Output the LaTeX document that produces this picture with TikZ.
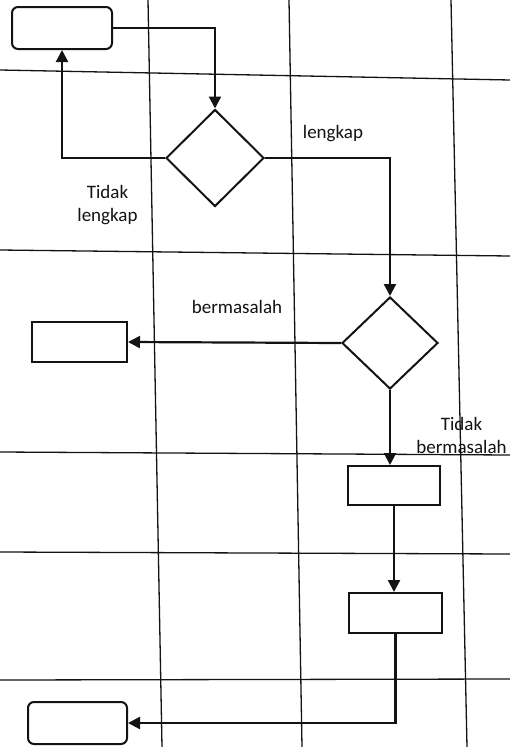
\documentclass[tikz,border=0pt]{standalone}
\usepackage{fontspec}
\setmainfont{Carlito}
\usetikzlibrary{shapes.geometric,arrows.meta}
\definecolor{ink}{HTML}{141212}
\begin{document}
\begin{tikzpicture}[x=1pt,y=-1pt,
  grid/.style={draw=ink,line width=1.3pt},
  box/.style={draw=ink,line width=2pt,rectangle,inner sep=0pt,fill=white},
  rbox/.style={box,rounded corners=6pt},
  dia/.style={draw=ink,line width=2pt,diamond,inner sep=0pt,fill=white},
  conn/.style={draw=ink,line width=2.2pt},
  arr/.style={conn,-{Triangle[length=12pt,width=12pt]}},
  lbl/.style={text=ink,font=\fontsize{19}{23}\selectfont,align=center,inner sep=0pt}]
\useasboundingbox (0,0) rectangle (510,747);
\fill[white] (0,0) rectangle (510,747);
% grid
\draw[grid] (148,0) -- (162,747);
\draw[grid] (289,0) -- (302,747);
\draw[grid] (451,0) -- (467,747);
\draw[grid] (0,70) -- (510,80);
\draw[grid] (0,250) -- (510,256);
\draw[grid] (0,452) -- (510,455);
\draw[grid] (0,552) -- (510,554);
\draw[grid] (0,680) -- (510,679);
% nodes
\node[rbox,minimum width=100pt,minimum height=42pt] (start) at (62,28) {};
\node[dia,minimum width=98pt,minimum height=97pt] (d1) at (215,158) {};
\node[dia,minimum width=96pt,minimum height=92pt] (d2) at (390,343) {};
\node[box,minimum width=95pt,minimum height=40pt] (r2) at (79.5,342) {};
\node[box,minimum width=92pt,minimum height=39pt] (r3) at (394,485.5) {};
\node[box,minimum width=93pt,minimum height=40pt] (r4) at (395.5,613) {};
\node[rbox,minimum width=99pt,minimum height=42pt] (r5) at (77.5,723) {};
% labels
\node[lbl] (ltl) at (107.5,205) {Tidak\\lengkap};
\node[lbl] (ll) at (333,134) {lengkap};
\node[lbl] (lb) at (237,307) {bermasalah};
\node[lbl] (ltb) at (461.5,435) {Tidak\\bermasalah};
% connectors
\draw[arr] (start.east) -| (d1.north);
\draw[arr] (d1.west) -| (start.south);
\draw[arr] (d1.east) -| (d2.north);
\draw[arr] (d2.west) -- (r2.east);
\draw[arr] (d2.south) -- (d2.south |- r3.north);
\draw[arr] (r3.south) -- (r3.south |- r4.north);
\draw[arr] (r4.south) |- (r5.east);
\end{tikzpicture}
\end{document}
